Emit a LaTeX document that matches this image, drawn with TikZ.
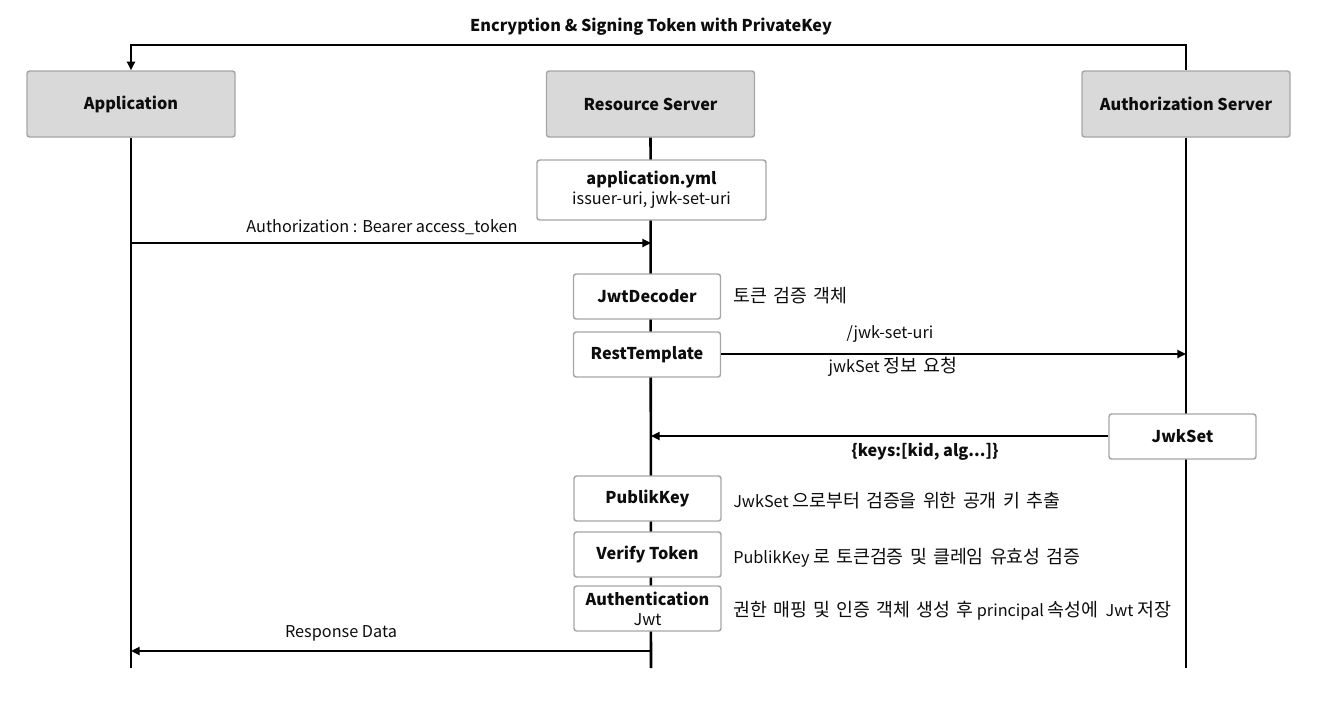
\documentclass[tikz,border=0pt]{standalone}
\usepackage{fontspec}
\setmainfont{Noto Sans CJK KR}
\newfontfamily\krfont{Noto Sans CJK KR}[Scale=1.13, WordSpace=1.5]
\newcommand\kr[1]{{\krfont #1}}
\usetikzlibrary{arrows.meta}
\definecolor{boxgray}{HTML}{D9D9D9}
\definecolor{edgegray}{HTML}{A6A6A6}
\definecolor{ink}{HTML}{0D0D0D}
\tikzset{
  basefont/.style={font=\fontsize{12.2}{14}\selectfont},
  boldfont/.style={font=\bfseries\fontsize{12.2}{14}\selectfont},
  head/.style={draw=edgegray, line width=1.1pt, fill=boxgray, rounded corners=2pt, minimum width=208*0.75pt, minimum height=66*0.75pt, boldfont, inner sep=0pt, text=ink},
  stepbox/.style={draw=edgegray, line width=1.1pt, fill=white, rounded corners=2pt, minimum width=147*0.75pt, minimum height=45*0.75pt, boldfont, inner sep=0pt, align=center, text=ink},
  life/.style={line width=1.9pt},
  msg/.style={line width=1.6pt, -{Triangle[length=6.5pt,width=6pt]}},
  lbl/.style={basefont, inner sep=0pt, text=ink},
  note/.style={basefont, inner sep=0pt, anchor=west, text=ink},
}
\begin{document}
\begin{tikzpicture}[x=0.75pt, y=-0.75pt]
\useasboundingbox (0,0) rectangle (1317,708);
% headers
\node[head] (app) at (131,104) {Application};
\node[head] (rs) at (650.5,104) {Resource Server};
\node[head] (as) at (1186,104) {Authorization Server};
% lifeline ends
\coordinate (appEnd) at (131,668);
\coordinate (rsEnd) at (651,668);
\coordinate (asEnd) at (1186,668);
\draw[life] (app.south) -- (appEnd);
\draw[life] (rs.south) -- (rsEnd);
\draw[life] (as.south) -- (asEnd);
% top arrow
\coordinate (topL) at (131,45);
\coordinate (topR) at (1186,45);
\draw[msg] (as.north) -- (topR) -- (topL) -- (app.north);
\node[lbl, boldfont] (toplbl) at (651,27) {Encryption \& Signing Token with PrivateKey};
% application.yml
\node[stepbox, minimum width=229*0.75pt, minimum height=60*0.75pt] (yml) at (651.5,190) {application.yml\\[1pt]\mdseries issuer-uri, jwk-set-uri};
% request
\coordinate (appReq) at (131,243);
\coordinate (rsReq) at (651,243);
\draw[msg] (appReq) -- (rsReq);
\node[lbl] (reqlbl) at (382,227) {Authorization : Bearer access\_token};
% JwtDecoder
\node[stepbox] (dec) at (647,296.5) {JwtDecoder};
\node[note] (decnote) at (733,296) {\kr{토큰 검증 객체}};
% RestTemplate
\node[stepbox] (rest) at (647,354.5) {RestTemplate};
\coordinate (asReq) at (1186,354);
\draw[msg] (rest.east |- asReq) -- (asReq);
\node[lbl] (uri) at (890,334) {/jwk-set-uri};
\node[lbl] (jwkreq) at (893,367) {jwkSet \kr{정보 요청}};
% JwkSet
\node[stepbox] (jwks) at (1182.5,436.5) {JwkSet};
\coordinate (rsKeys) at (651,436);
\draw[msg] (jwks.west |- rsKeys) -- (rsKeys);
\node[lbl, boldfont] (keys) at (925,452) {\{keys:[kid, alg...]\}};
% PublikKey etc.
\node[stepbox] (pk) at (647.5,498.5) {PublikKey};
\node[note] (pknote) at (733,501) {JwkSet \kr{으로부터 검증을 위한 공개 키 추출}};
\node[stepbox] (vt) at (647.5,554.5) {Verify Token};
\node[note] (vtnote) at (733,558) {PublikKey \kr{로 토큰검증 및 클레임 유효성 검증}};
\node[stepbox] (auth) at (647.5,608.5) {Authentication\\[1pt]\mdseries Jwt};
\node[note] (authnote) at (733,611) {\kr{권한 매핑 및 인증 객체 생성 후} principal \kr{속성에}~ Jwt \kr{저장}};
% response
\coordinate (rsResp) at (651,651);
\coordinate (appResp) at (131,651);
\draw[msg] (rsResp) -- (appResp);
\node[lbl] (resplbl) at (341,633) {Response Data};
\end{tikzpicture}
\end{document}
